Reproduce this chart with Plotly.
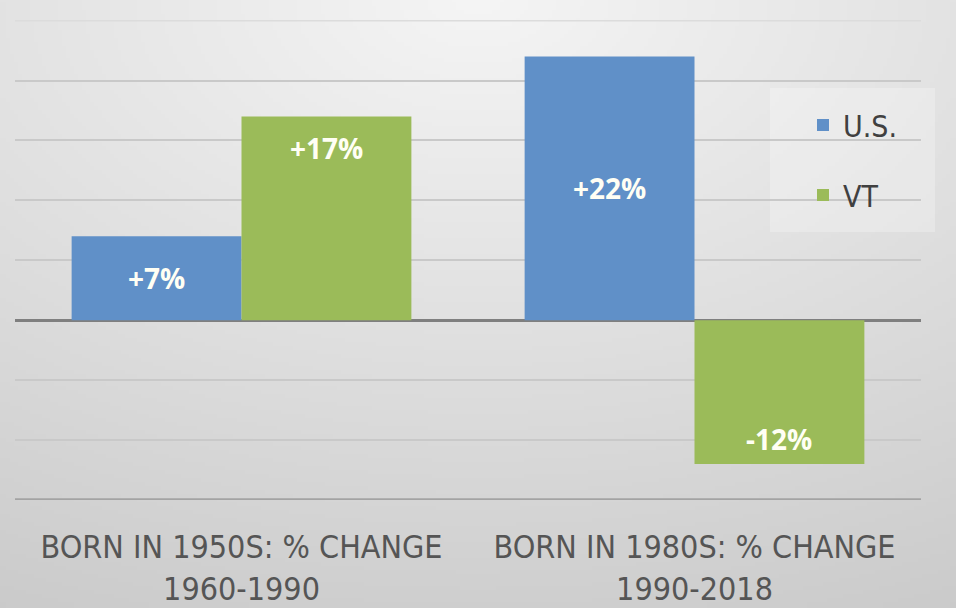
import base64
import struct
import zlib

import numpy as np
import plotly.graph_objects as go

# ---- data -------------------------------------------------------------
categories = ["BORN IN 1950S: % CHANGE<br>1960-1990",
              "BORN IN 1980S: % CHANGE<br>1990-2018"]
series_names = ["U.S.", "VT"]
us_values = [7, 22]
vt_values = [17, -12]

BLUE = "#6090C8"
GREEN = "#9BBB59"
W, H = 956, 608
M_L, M_R, M_T, M_B = 15, 35, 20, 108
LABEL_FONT = "Liberation Sans Narrow, DejaVu Sans Condensed, Arial Narrow, sans-serif"


def gradient_png(w, h):
    """Soft grey vignette used as the chart backdrop, encoded as a PNG data URI."""
    xs = (np.arange(w) - (w - 1) / 2) / ((w - 1) / 2)
    ys = np.arange(h) / (h - 1)
    gx, gy = np.meshgrid(xs, ys)
    val = 245 - np.sqrt((18 * gx) ** 2 + (38 * gy) ** 2)
    img = np.clip(val, 0, 255).astype(np.uint8)
    raw = b"".join(b"\x00" + row.tobytes() for row in img)

    def chunk(tag, data):
        c = struct.pack(">I", len(data)) + tag + data
        return c + struct.pack(">I", zlib.crc32(tag + data) & 0xFFFFFFFF)

    png = (b"\x89PNG\r\n\x1a\n"
           + chunk(b"IHDR", struct.pack(">IIBBBBB", w, h, 8, 0, 0, 0, 0))
           + chunk(b"IDAT", zlib.compress(raw, 9))
           + chunk(b"IEND", b""))
    return "data:image/png;base64," + base64.b64encode(png).decode()


x_pos = list(range(len(categories)))

fig = go.Figure()
fig.add_trace(go.Bar(x=x_pos, y=us_values, name=series_names[0],
                     marker=dict(color=BLUE, line=dict(width=0)),
                     legendgroup="us", hoverinfo="skip"))
fig.add_trace(go.Bar(x=x_pos, y=vt_values, name=series_names[1],
                     marker=dict(color=GREEN, line=dict(width=0)),
                     legendgroup="vt", hoverinfo="skip"))

# value labels: U.S. centred in its bar, VT near the bar end
bar_w = 0.75 / 2
label_font = dict(family="Open Sans", size=28, color="#FFFFF4", weight="bold")
annotations = []
for i, v in enumerate(us_values):
    annotations.append(dict(x=i - bar_w / 2, y=v / 2, xref="x", yref="y",
                            text=f"{v:+d}%", showarrow=False, font=label_font))
for i, v in enumerate(vt_values):
    annotations.append(dict(x=i + bar_w / 2, y=v, xref="x", yref="y",
                            text=f"{v:+d}%" if v > 0 else f"{v}%", showarrow=False,
                            yshift=-32 if v > 0 else 25, font=label_font))

pw = W - M_L - M_R
ph = H - M_T - M_B
plot_bottom = H - M_B

fig.update_layout(
    width=W, height=H,
    margin=dict(l=M_L, r=M_R, t=M_T, b=M_B, pad=0, autoexpand=False),
    paper_bgcolor="#e6e6e6",
    plot_bgcolor="rgba(0,0,0,0)",
    barmode="group", bargap=0.25, bargroupgap=0,
    showlegend=True,
    legend=dict(x=(803 - M_L) / pw, y=(plot_bottom - 99) / ph,
                xanchor="left", yanchor="top",
                bgcolor="rgba(0,0,0,0)", borderwidth=0,
                tracegroupgap=28,
                font=dict(family=LABEL_FONT, size=30, color="#404040")),
    xaxis=dict(tickvals=x_pos, ticktext=categories, range=[-0.5, 1.5],
               automargin=False,
               showgrid=False, zeroline=False, showline=False,
               ticks="outside", ticklen=19, tickcolor="rgba(0,0,0,0)",
               tickfont=dict(family=LABEL_FONT, size=32, color="#555555")),
    yaxis=dict(range=[-15, 25.05], dtick=5, showticklabels=False, automargin=False,
               showgrid=True, gridcolor="#c9c9c9", gridwidth=2,
               zeroline=True, zerolinecolor="#7f7f7f", zerolinewidth=2.5,
               showline=False),
    annotations=annotations,
    images=[dict(source=gradient_png(240, 152), xref="paper", yref="paper",
                 x=-M_L / pw, y=1 + M_T / ph, sizex=W / pw, sizey=H / ph,
                 xanchor="left", yanchor="top", sizing="stretch", layer="below")],
    shapes=[
        # lighter panel behind the legend
        dict(type="rect", xref="paper", yref="paper",
             x0=(770 - M_L) / pw, x1=(935 - M_L) / pw,
             y0=(plot_bottom - 232) / ph, y1=(plot_bottom - 88) / ph,
             fillcolor="rgba(255,255,255,0.25)", line=dict(width=0), layer="below"),
        # top rule of the value range
        dict(type="line", xref="paper", yref="y", x0=0, x1=1, y0=25, y1=25,
             line=dict(color="#dcdcdc", width=2), layer="below"),
        # heavier baseline at the bottom of the value range
        dict(type="line", xref="paper", yref="y", x0=0, x1=1, y0=-15, y1=-15,
             line=dict(color="#a3a3a3", width=3.5), layer="above"),
    ],
)

fig.write_html("out.html")
